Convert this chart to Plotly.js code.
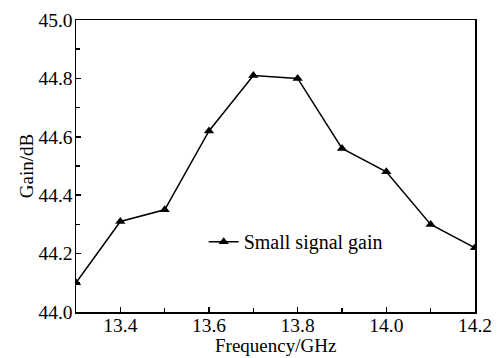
<!DOCTYPE html>
<html><head><meta charset="utf-8">
<script src="https://cdn.plot.ly/plotly-3.0.1.min.js"></script>
<style>html,body{margin:0;padding:0;background:#fff}</style>
</head><body>
<div id="chart" style="width:503px;height:358px"></div>
<script>
const freq = [13.3, 13.4, 13.5, 13.6, 13.7, 13.8, 13.9, 14.0, 14.1, 14.2];
const gain = [44.10, 44.31, 44.35, 44.62, 44.81, 44.80, 44.56, 44.48, 44.30, 44.22];
const xTicks = [13.4, 13.6, 13.8, 14.0, 14.2];
const yTicks = [44.0, 44.2, 44.4, 44.6, 44.8, 45.0];
const xTitle = 'Frequency/GHz';
const yTitle = 'Gain/dB';
const seriesName = 'Small signal gain';

const font = {family: 'Liberation Serif', size: 20, color: '#000'};
const tickFont = {family: 'Liberation Serif', size: 19.5, color: '#000'};
const titleFont = {family: 'Liberation Serif', size: 19, color: '#000'};
const trace = {
  x: freq, y: gain, type: 'scatter', mode: 'lines+markers',
  name: seriesName,
  line: {color: '#000', width: 1.5},
  marker: {symbol: 'triangle-up', size: 9, color: '#000'},
  cliponaxis: true
};
const axisCommon = {
  showline: true, linecolor: '#000', linewidth: 1.5, mirror: true,
  ticks: 'inside', ticklen: 5, tickwidth: 1.5, tickcolor: '#000',
  showgrid: false, zeroline: false, tickfont: tickFont,
  minor: {ticks: 'inside', ticklen: 4, tickwidth: 1.5, tickcolor: '#000'}
};
const layout = {
  width: 503, height: 358,
  margin: {l: 76, r: 28, t: 20, b: 46},
  paper_bgcolor: '#fff', plot_bgcolor: '#fff',
  font: font,
  showlegend: true,
  legend: {x: 0.32, y: 0.241, xanchor: 'left', yanchor: 'middle', bgcolor: 'rgba(0,0,0,0)', font: font, itemwidth: 30},
  xaxis: Object.assign({}, axisCommon, {
    range: [13.3, 14.2], tickvals: xTicks, ticktext: xTicks.map(v => v.toFixed(1)),
    minor: Object.assign({}, axisCommon.minor, {dtick: 0.1, tick0: 13.3}),
    ticklabelstandoff: -5,
    automargin: false
  }),
  yaxis: Object.assign({}, axisCommon, {
    range: [44.0, 45.0], tickvals: yTicks, ticktext: yTicks.map(v => v.toFixed(1)),
    minor: Object.assign({}, axisCommon.minor, {dtick: 0.1, tick0: 44.0}),
    title: {text: yTitle, font: titleFont, standoff: 0},
    ticklabelstandoff: -2,
    automargin: false
  }),
  annotations: [{
    text: xTitle, xref: 'paper', yref: 'paper', x: 0.5, y: -0.153,
    xanchor: 'center', yanchor: 'bottom', showarrow: false, font: titleFont,
    borderpad: 0
  }]
};
Plotly.newPlot('chart', [trace], layout, {displayModeBar: false, staticPlot: true});
</script>
</body></html>
